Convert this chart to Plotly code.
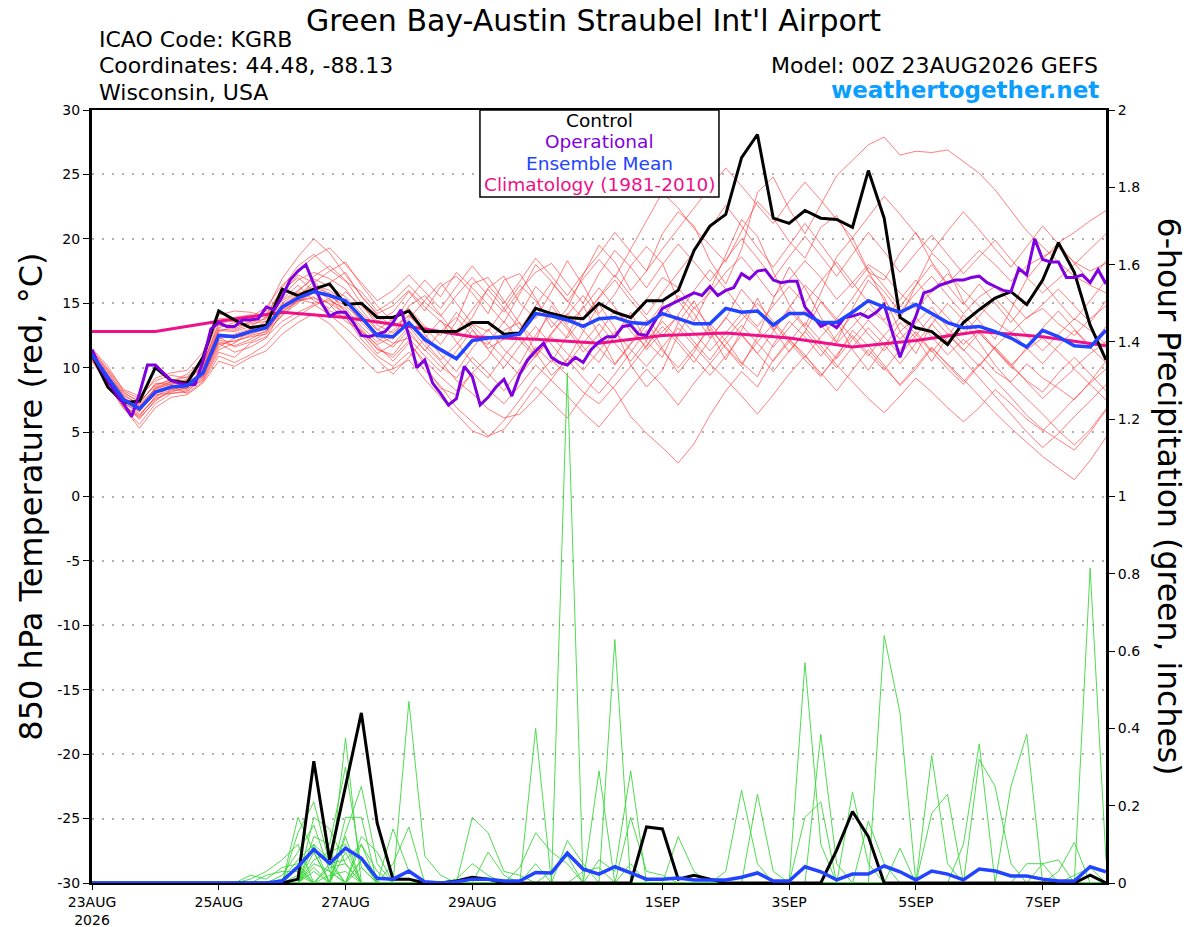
import pandas as pd
import plotly.graph_objects as go

# time axis: GEFS 6-hourly out to 384h, operational 3-hourly, climatology daily
times = pd.date_range("2026-08-23 00:00", periods=65, freq="6h")
times_op = pd.date_range("2026-08-23 00:00", periods=129, freq="3h")
days_clim = pd.date_range("2026-08-23 00:00", periods=17, freq="D")

tick_dates = ["2026-08-23", "2026-08-25", "2026-08-27", "2026-08-29",
              "2026-09-01", "2026-09-03", "2026-09-05", "2026-09-07"]
tick_labels = ["23AUG<br>2026", "25AUG", "27AUG", "29AUG", "1SEP", "3SEP", "5SEP", "7SEP"]
temp_ticks = [30, 25, 20, 15, 10, 5, 0, -5, -10, -15, -20, -25, -30]
temp_labels = ["30", "25", "20", "15", "10", "5", "0", "-5", "-10", "-15", "-20", "-25", "-30"]
precip_ticks = [0, 0.2, 0.4, 0.6, 0.8, 1, 1.2, 1.4, 1.6, 1.8, 2]
precip_labels = ["0", "0.2", "0.4", "0.6", "0.8", "1", "1.2", "1.4", "1.6", "1.8", "2"]

# 850 hPa temperature (C)
control_t = [11.0, 8.5, 7.3, 7.4, 10.0, 9.0, 8.8, 10.8, 14.4, 13.7,
             13.1, 13.3, 16.1, 15.6, 16.1, 16.5, 14.9, 15.0, 13.9, 13.9,
             14.4, 12.8, 12.8, 12.8, 13.5, 13.5, 12.6, 12.7, 14.6, 14.2,
             13.9, 13.8, 15.0, 14.3, 13.9, 15.2, 15.2, 16.0, 19.1, 21.0,
             21.9, 26.3, 28.1, 21.6, 21.2, 22.2, 21.6, 21.5, 20.9, 25.3,
             21.6, 13.9, 13.1, 12.8, 11.8, 13.5, 14.5, 15.4, 15.9, 14.9,
             16.8, 19.7, 17.4, 13.3, 10.6]
mean_t = [11.0, 9.3, 7.5, 6.8, 8.1, 8.5, 8.6, 9.6, 12.5, 12.4,
          12.8, 13.1, 14.7, 15.4, 15.9, 15.6, 15.2, 13.9, 12.5, 12.4,
          13.5, 12.2, 11.4, 10.7, 12.1, 12.3, 12.4, 12.6, 14.2, 14.0,
          13.7, 13.2, 13.8, 13.9, 13.5, 13.4, 14.2, 13.8, 13.4, 13.4,
          14.6, 14.3, 14.4, 13.3, 14.2, 14.2, 13.5, 13.5, 14.3, 15.2,
          14.7, 14.3, 14.9, 14.2, 13.5, 13.1, 13.2, 12.8, 12.3, 11.6,
          12.9, 12.4, 11.7, 11.6, 12.9]
oper_t = [11.4, 10.0, 9.0, 8.0, 7.2, 6.2, 8.0, 10.2, 10.2, 9.6,
          9.0, 8.8, 8.7, 8.7, 10.5, 13.0, 13.5, 13.2, 13.2, 13.7,
          13.7, 13.8, 14.7, 14.5, 15.5, 16.8, 17.5, 18.0, 16.5, 15.0,
          14.0, 14.3, 14.3, 13.5, 12.5, 12.4, 12.6, 12.8, 13.5, 14.5,
          12.5, 10.0, 10.6, 8.8, 8.0, 7.1, 7.6, 10.1, 9.3, 7.1,
          7.7, 8.5, 9.1, 7.8, 9.5, 10.6, 11.3, 11.9, 10.8, 10.4,
          10.2, 10.8, 10.4, 11.4, 12.0, 12.4, 12.4, 13.2, 13.3, 12.6,
          12.5, 13.5, 14.6, 14.9, 15.2, 15.5, 15.8, 15.6, 16.3, 15.6,
          16.0, 16.2, 17.3, 16.9, 17.5, 17.6, 16.8, 16.6, 16.7, 16.7,
          14.7, 14.0, 13.2, 13.5, 13.1, 13.9, 14.0, 14.2, 13.9, 14.3,
          14.9, 12.8, 10.8, 12.5, 14.0, 15.8, 16.0, 16.4, 16.6, 16.8,
          16.8, 17.0, 17.1, 16.6, 16.3, 16.0, 15.9, 17.7, 17.2, 20.0,
          18.4, 18.2, 18.2, 17.0, 17.0, 17.2, 16.6, 17.6, 16.5]
clim_t = [12.8, 12.8, 13.6, 14.3, 13.9, 13.2, 12.4, 12.2, 11.9, 12.5,
          12.7, 12.3, 11.6, 12.1, 12.8, 12.4, 11.7]

# ensemble members, temperature
t01 = [10.8, 8.9, 7.0, 6.2, 7.8, 8.3, 8.4, 9.9, 12.9, 12.8, 13.2, 13.9, 15.6, 16.8, 17.4, 16.9, 16.1, 14.5, 13.0, 12.2, 14.8, 15.6, 14.1, 12.5, 13.9, 16.2, 17.1, 15.0, 13.8, 15.9, 18.3, 16.4, 14.2, 15.7, 17.9, 19.4, 18.1, 15.2, 13.6, 16.0, 18.8, 21.5, 20.2, 17.4, 14.9, 13.2, 15.8, 18.6, 20.1, 17.5, 15.2, 13.8, 16.4, 18.9, 17.7, 15.1, 13.6, 12.2, 14.5, 16.9, 18.4, 19.7, 20.5, 21.4, 22.2]
t02 = [11.2, 9.6, 8.0, 7.4, 8.6, 9.1, 8.9, 9.3, 11.8, 12.1, 12.4, 12.6, 14.1, 15.0, 16.2, 15.8, 14.3, 12.7, 11.5, 10.8, 12.1, 10.2, 8.4, 7.9, 9.6, 10.8, 12.9, 13.5, 11.2, 9.4, 10.6, 12.8, 14.9, 13.1, 10.2, 8.5, 9.8, 12.6, 14.7, 13.2, 11.5, 10.1, 12.4, 15.3, 17.8, 16.2, 13.9, 12.0, 14.6, 16.8, 15.5, 12.8, 11.1, 13.4, 15.0, 13.7, 11.9, 10.2, 8.8, 7.6, 6.4, 5.1, 4.0, 5.2, 6.8]
t03 = [10.6, 8.7, 6.8, 5.6, 7.2, 8.0, 8.2, 9.1, 11.4, 11.9, 12.9, 13.6, 15.3, 16.4, 15.2, 14.6, 15.9, 14.8, 13.6, 14.3, 15.9, 14.4, 16.3, 17.1, 15.8, 14.2, 16.8, 17.3, 15.4, 13.1, 14.6, 17.2, 19.5, 18.2, 16.0, 17.5, 20.4, 22.1, 21.0, 18.3, 16.5, 19.2, 23.6, 24.8, 22.3, 20.4, 22.7, 24.9, 26.1, 27.3, 27.9, 26.5, 26.8, 26.7, 26.9, 26.0, 25.1, 23.8, 22.2, 20.6, 19.4, 18.2, 17.1, 16.4, 15.8]
t04 = [11.4, 9.9, 8.3, 7.8, 9.0, 9.4, 9.2, 10.3, 13.1, 13.5, 13.8, 14.4, 16.9, 18.6, 20.0, 18.9, 17.2, 15.6, 14.1, 13.2, 14.0, 13.1, 11.8, 13.6, 16.5, 17.0, 15.2, 13.4, 12.1, 14.8, 13.2, 11.6, 10.4, 12.5, 14.3, 12.0, 10.8, 13.5, 15.2, 12.8, 10.6, 12.9, 15.4, 13.0, 11.2, 12.8, 15.1, 13.6, 11.4, 9.8, 11.6, 13.5, 12.3, 10.5, 12.4, 14.1, 12.7, 11.4, 10.1, 9.0, 8.1, 9.6, 10.8, 9.5, 8.2]
t05 = [10.9, 9.1, 7.6, 7.0, 8.2, 8.6, 8.0, 8.9, 10.9, 10.4, 11.0, 11.8, 13.2, 14.0, 14.8, 15.4, 14.0, 12.2, 10.9, 10.1, 11.2, 9.8, 8.6, 6.9, 5.8, 4.7, 5.2, 6.8, 8.5, 7.3, 6.1, 7.8, 9.5, 8.3, 6.2, 4.9, 3.8, 2.6, 4.1, 6.3, 8.2, 9.7, 8.5, 10.6, 12.2, 11.0, 9.4, 10.8, 12.9, 11.7, 10.2, 8.6, 9.9, 11.5, 10.3, 9.1, 7.8, 6.5, 5.3, 4.2, 3.1, 2.2, 1.3, 2.8, 4.6]
t06 = [11.1, 9.4, 7.9, 7.1, 8.4, 8.9, 9.5, 10.6, 13.8, 13.9, 14.1, 13.9, 15.8, 17.2, 16.6, 17.5, 18.2, 16.4, 14.8, 13.5, 15.3, 16.8, 15.5, 17.4, 16.2, 14.9, 13.5, 15.8, 18.0, 16.7, 15.1, 16.9, 18.4, 17.0, 19.2, 21.5, 23.6, 22.4, 20.8, 19.5, 18.2, 20.6, 22.9, 21.6, 19.8, 18.5, 20.9, 21.8, 19.6, 17.4, 16.8, 18.9, 20.5, 18.2, 16.5, 17.8, 19.1, 18.0, 16.7, 17.9, 18.6, 19.3, 18.2, 17.5, 18.1]
t07 = [10.7, 8.8, 7.3, 6.4, 7.6, 8.1, 8.5, 9.4, 11.9, 11.2, 11.6, 12.3, 14.4, 15.1, 15.8, 14.9, 13.6, 12.9, 11.4, 11.0, 12.6, 11.4, 10.1, 9.2, 10.8, 9.6, 8.2, 9.9, 11.6, 10.4, 12.5, 14.8, 12.6, 10.3, 11.9, 13.7, 11.5, 9.6, 11.2, 13.4, 12.1, 10.4, 9.3, 11.8, 13.6, 12.4, 10.9, 12.5, 14.1, 12.6, 11.3, 12.8, 13.9, 12.4, 11.0, 12.2, 11.1, 9.7, 8.9, 10.3, 9.2, 8.4, 7.5, 8.9, 10.5]
t08 = [11.3, 9.7, 7.8, 7.2, 8.8, 8.7, 9.1, 10.1, 12.8, 13.2, 13.5, 13.8, 15.2, 16.0, 16.9, 16.3, 15.5, 14.2, 12.9, 13.8, 14.6, 13.2, 12.5, 14.3, 13.0, 11.5, 12.2, 14.1, 16.3, 15.1, 13.4, 14.6, 16.2, 14.7, 12.8, 11.6, 13.9, 15.6, 14.2, 12.3, 13.8, 16.1, 14.6, 12.9, 14.7, 16.4, 15.2, 13.8, 15.4, 17.2, 15.9, 14.3, 15.8, 17.1, 15.6, 14.2, 15.5, 16.3, 15.1, 13.8, 14.9, 16.1, 14.8, 13.5, 15.2]
t09 = [10.5, 8.6, 6.9, 5.3, 6.9, 7.7, 7.9, 8.8, 10.5, 10.1, 10.8, 11.3, 12.6, 13.5, 14.2, 13.4, 12.1, 10.8, 9.6, 9.9, 10.6, 9.1, 7.7, 6.4, 5.1, 4.6, 5.9, 7.5, 9.2, 10.6, 9.4, 8.1, 7.2, 8.6, 10.1, 11.7, 13.2, 11.9, 10.4, 12.2, 13.9, 12.6, 11.1, 12.8, 14.5, 13.1, 11.7, 10.2, 8.9, 7.6, 6.5, 7.8, 9.2, 8.1, 6.9, 5.8, 6.9, 8.3, 7.2, 6.0, 5.1, 6.3, 7.6, 8.8, 9.9]
t10 = [11.0, 9.2, 7.4, 6.6, 8.0, 8.4, 8.7, 9.7, 12.2, 12.6, 13.0, 13.3, 14.9, 15.6, 16.4, 16.0, 15.1, 13.5, 12.3, 11.6, 12.9, 11.3, 12.8, 13.9, 12.4, 11.8, 13.6, 12.1, 10.8, 12.6, 14.1, 15.6, 14.0, 12.4, 13.7, 15.3, 17.0, 16.2, 14.6, 15.8, 17.4, 18.6, 17.1, 15.5, 16.8, 18.3, 17.0, 15.3, 16.6, 18.0, 17.2, 15.8, 14.6, 15.9, 17.3, 16.0, 14.8, 13.6, 12.7, 13.9, 14.6, 13.4, 12.5, 13.8, 14.8]
t11 = [10.9, 9.0, 7.1, 6.0, 7.5, 8.2, 8.3, 9.5, 12.0, 11.7, 12.2, 12.9, 14.0, 15.3, 15.0, 15.2, 14.6, 13.2, 12.0, 12.9, 14.1, 12.6, 11.0, 9.7, 11.5, 13.0, 11.4, 10.3, 12.5, 14.3, 13.0, 11.2, 12.6, 14.5, 13.3, 11.4, 12.8, 14.0, 12.7, 11.3, 12.7, 14.2, 13.0, 11.6, 13.1, 14.5, 13.3, 11.9, 13.2, 14.6, 13.6, 12.2, 13.5, 14.7, 13.1, 11.8, 12.9, 11.5, 10.2, 11.4, 12.3, 11.2, 10.0, 11.1, 12.0]
t12 = [11.5, 10.1, 8.2, 7.6, 9.2, 9.6, 9.8, 11.2, 14.1, 14.4, 14.3, 14.0, 16.2, 17.9, 18.8, 17.6, 16.7, 15.9, 14.4, 15.2, 16.4, 15.1, 14.0, 15.6, 17.0, 15.6, 14.3, 16.0, 17.4, 18.1, 16.5, 15.0, 17.3, 19.1, 17.8, 16.2, 18.0, 19.6, 18.2, 16.7, 18.4, 20.0, 18.5, 16.9, 18.6, 20.2, 18.7, 17.1, 18.8, 20.5, 19.0, 17.4, 18.9, 20.3, 18.8, 17.3, 18.6, 19.9, 18.4, 17.0, 15.8, 16.9, 18.0, 19.2, 20.4]
t13 = [10.8, 9.0, 7.0, 6.3, 7.7, 8.6, 8.8, 9.8, 12.4, 11.6, 12.0, 12.7, 14.6, 15.8, 16.1, 15.3, 14.4, 13.0, 11.7, 10.5, 11.9, 10.5, 9.3, 8.2, 9.6, 8.3, 7.2, 8.6, 10.2, 9.0, 7.8, 6.5, 5.4, 6.9, 8.4, 9.9, 8.6, 7.1, 8.8, 10.3, 9.1, 7.8, 6.4, 7.9, 9.5, 10.9, 9.6, 8.2, 9.8, 11.4, 10.0, 8.7, 10.1, 11.6, 10.2, 8.9, 10.3, 9.0, 7.7, 6.3, 5.2, 4.4, 3.6, 5.0, 6.7]
t14 = [11.2, 9.5, 7.7, 6.9, 8.3, 8.8, 9.0, 10.0, 13.0, 12.9, 13.4, 13.6, 15.0, 15.9, 17.1, 17.9, 16.8, 15.0, 13.3, 12.7, 13.8, 15.2, 16.6, 15.0, 13.4, 12.8, 14.6, 16.4, 15.2, 13.6, 12.3, 13.9, 15.4, 16.8, 15.2, 13.8, 12.4, 14.1, 16.0, 17.6, 16.1, 14.5, 13.2, 14.8, 16.3, 15.0, 16.7, 18.2, 16.6, 15.1, 13.7, 15.3, 16.8, 15.2, 13.9, 12.6, 14.0, 15.4, 14.0, 12.5, 11.3, 12.6, 13.8, 12.9, 11.8]
t15 = [10.6, 8.8, 7.1, 6.1, 7.4, 8.3, 8.6, 9.2, 11.6, 12.3, 12.6, 13.0, 14.3, 15.2, 15.5, 14.4, 13.9, 12.6, 11.1, 11.8, 13.2, 11.7, 10.5, 9.0, 8.0, 6.8, 6.1, 6.4, 7.6, 9.1, 10.7, 9.2, 8.0, 9.5, 11.2, 12.9, 11.3, 10.0, 11.5, 13.0, 11.6, 10.3, 12.0, 13.4, 12.0, 10.6, 9.3, 11.0, 12.5, 11.1, 9.8, 11.4, 12.8, 11.3, 9.9, 8.7, 10.2, 11.6, 10.3, 8.9, 7.6, 8.8, 9.9, 8.7, 7.5]
t16 = [11.1, 9.3, 7.5, 6.7, 8.1, 8.5, 8.4, 9.0, 11.2, 10.8, 11.9, 12.4, 13.6, 14.3, 14.9, 14.1, 13.1, 11.9, 10.6, 9.5, 10.8, 12.3, 13.7, 12.0, 10.4, 9.2, 10.9, 12.4, 11.0, 12.7, 14.2, 12.9, 11.5, 10.2, 11.8, 13.3, 14.9, 13.5, 12.0, 10.6, 12.3, 13.7, 15.0, 13.6, 12.2, 10.8, 12.4, 13.8, 12.3, 10.9, 12.5, 13.9, 12.6, 11.2, 12.7, 11.4, 10.1, 11.6, 12.8, 11.5, 10.3, 11.7, 12.9, 11.6, 10.4]
t17 = [10.7, 8.9, 7.2, 6.6, 8.5, 8.9, 9.3, 10.4, 13.3, 13.0, 13.6, 14.2, 16.0, 17.0, 15.9, 16.6, 17.4, 15.5, 14.2, 14.8, 16.0, 14.7, 13.6, 12.8, 14.5, 16.1, 14.6, 13.0, 14.8, 16.6, 15.2, 13.8, 15.5, 17.2, 15.6, 14.1, 15.8, 17.4, 19.0, 20.8, 22.6, 21.0, 19.3, 17.8, 19.5, 21.2, 19.6, 17.9, 16.2, 17.8, 16.3, 14.7, 16.4, 18.0, 16.4, 14.9, 16.5, 15.0, 13.5, 15.1, 16.6, 15.1, 13.7, 15.2, 16.8]
t18 = [11.3, 9.8, 8.1, 7.3, 8.7, 9.0, 8.8, 9.6, 12.6, 12.5, 12.9, 13.2, 14.8, 15.5, 16.7, 15.5, 14.8, 13.7, 12.6, 11.9, 12.3, 10.9, 9.7, 11.3, 12.9, 11.4, 10.0, 11.7, 13.2, 11.8, 10.3, 11.9, 13.4, 11.9, 10.5, 12.1, 13.6, 12.2, 10.8, 9.4, 10.9, 12.5, 11.1, 9.7, 11.3, 12.8, 11.4, 10.0, 11.6, 13.1, 11.8, 10.3, 11.9, 13.4, 12.0, 10.6, 9.2, 7.8, 6.4, 5.0, 3.8, 4.9, 6.2, 7.4, 8.7]
t19 = [10.9, 9.1, 7.3, 6.8, 7.9, 8.0, 8.1, 9.3, 12.1, 12.0, 12.5, 12.8, 14.5, 15.2, 15.4, 15.0, 14.2, 12.8, 11.8, 12.4, 13.6, 12.0, 10.6, 11.8, 13.3, 12.0, 10.7, 9.4, 10.9, 12.4, 11.1, 9.8, 11.3, 12.8, 11.4, 10.1, 11.6, 13.1, 11.7, 10.3, 11.8, 13.3, 11.9, 10.5, 12.0, 13.5, 12.1, 10.7, 12.2, 13.7, 12.4, 11.0, 12.5, 14.0, 12.6, 11.3, 12.7, 11.4, 10.0, 11.6, 13.1, 14.4, 13.0, 11.7, 13.2]
t20 = [11.0, 9.4, 7.6, 7.0, 8.4, 8.7, 9.0, 10.2, 13.5, 13.6, 13.9, 14.7, 16.4, 17.5, 18.6, 19.3, 18.0, 16.6, 15.2, 16.0, 17.2, 15.9, 14.6, 16.3, 17.9, 16.4, 15.0, 16.7, 18.5, 17.1, 15.6, 17.3, 18.8, 20.5, 19.0, 17.5, 19.2, 20.8, 22.4, 24.0, 25.5, 24.1, 22.6, 21.2, 22.9, 24.4, 23.0, 21.5, 20.1, 21.7, 23.3, 21.9, 20.4, 19.0, 20.6, 22.1, 20.7, 19.2, 17.8, 19.4, 21.0, 19.6, 18.1, 16.7, 18.3]

# 6-hour precipitation (inches)
control_p = [0, 0, 0, 0, 0, 0, 0, 0, 0, 0,
             0, 0, 0, 0.01, 0.315, 0.06, 0.25, 0.44, 0.155, 0.01,
             0.01, 0, 0, 0.005, 0.015, 0.01, 0, 0, 0, 0,
             0, 0, 0, 0, 0, 0.145, 0.14, 0.01, 0.02, 0.01,
             0, 0, 0, 0, 0, 0, 0, 0.085, 0.185, 0.12,
             0, 0, 0, 0, 0, 0, 0, 0, 0, 0,
             0, 0, 0, 0.02, 0]
mean_p = [0, 0, 0, 0, 0, 0, 0, 0, 0, 0,
          0, 0, 0.005, 0.042, 0.087, 0.051, 0.09, 0.064, 0.012, 0.01,
          0.031, 0.003, 0, 0.003, 0.01, 0.01, 0.005, 0.005, 0.027, 0.026,
          0.077, 0.036, 0.023, 0.042, 0.026, 0.01, 0.01, 0.013, 0.008, 0.008,
          0.008, 0.015, 0.026, 0.005, 0.005, 0.042, 0.029, 0.008, 0.023, 0.023,
          0.044, 0.029, 0.008, 0.031, 0.023, 0.008, 0.036, 0.031, 0.018, 0.018,
          0.01, 0.005, 0.005, 0.042, 0.029]

p01 = [0, 0, 0, 0, 0, 0, 0, 0, 0, 0, 0, 0, 0, 0.17, 0.08, 0, 0, 0.10, 0, 0, 0, 0, 0, 0, 0, 0, 0, 0, 0, 0.03, 0.07, 0, 0, 0, 0, 0, 0, 0, 0, 0, 0, 0, 0, 0, 0, 0, 0, 0, 0, 0, 0, 0, 0, 0.33, 0.05, 0, 0, 0, 0, 0, 0, 0, 0, 0, 0]
p02 = [0, 0, 0, 0, 0, 0, 0, 0, 0, 0, 0, 0, 0, 0.13, 0.21, 0.05, 0, 0, 0, 0, 0, 0, 0, 0, 0, 0, 0, 0, 0, 0, 1.32, 0, 0, 0, 0, 0, 0, 0, 0, 0, 0, 0, 0, 0, 0, 0, 0, 0, 0, 0, 0, 0, 0, 0, 0, 0, 0, 0, 0, 0, 0, 0.03, 0.105, 0, 0]
p03 = [0, 0, 0, 0, 0, 0, 0, 0, 0, 0, 0.01, 0.03, 0.06, 0.10, 0, 0, 0.375, 0, 0, 0, 0, 0, 0, 0, 0, 0, 0, 0, 0, 0, 0, 0, 0, 0, 0, 0, 0, 0, 0, 0, 0, 0, 0, 0, 0, 0, 0.385, 0.05, 0, 0, 0, 0, 0, 0, 0, 0, 0, 0, 0, 0, 0, 0, 0, 0, 0]
p04 = [0, 0, 0, 0, 0, 0, 0, 0, 0, 0, 0, 0, 0, 0, 0.17, 0.14, 0.05, 0, 0, 0, 0, 0, 0, 0, 0, 0, 0, 0, 0, 0, 0, 0, 0, 0, 0, 0, 0, 0, 0, 0, 0.03, 0.24, 0.05, 0, 0, 0, 0, 0, 0, 0, 0, 0, 0, 0, 0, 0, 0, 0, 0, 0, 0, 0, 0, 0, 0]
p05 = [0, 0, 0, 0, 0, 0, 0, 0, 0, 0, 0, 0, 0.02, 0.08, 0.15, 0.03, 0, 0, 0, 0, 0, 0, 0, 0, 0, 0, 0, 0, 0, 0, 0.11, 0.05, 0, 0, 0, 0, 0, 0, 0, 0, 0, 0, 0, 0, 0, 0, 0, 0, 0, 0.16, 0.05, 0, 0, 0, 0, 0, 0, 0, 0, 0, 0, 0, 0, 0, 0]
p06 = [0, 0, 0, 0, 0, 0, 0, 0, 0, 0, 0, 0, 0, 0, 0.12, 0.10, 0.30, 0.04, 0, 0, 0, 0, 0, 0, 0, 0, 0, 0, 0, 0, 0, 0, 0.29, 0, 0.05, 0, 0, 0, 0, 0, 0, 0, 0, 0, 0, 0, 0, 0, 0, 0, 0, 0, 0, 0, 0, 0, 0.32, 0.25, 0.05, 0, 0, 0, 0, 0, 0]
p07 = [0, 0, 0, 0, 0, 0, 0, 0, 0, 0, 0.02, 0.01, 0.04, 0.05, 0, 0, 0.13, 0.25, 0.05, 0, 0, 0, 0, 0, 0, 0, 0, 0, 0, 0, 0, 0, 0, 0, 0, 0, 0, 0, 0, 0, 0, 0, 0, 0, 0, 0, 0, 0, 0, 0, 0, 0, 0, 0, 0, 0.10, 0.36, 0, 0, 0, 0, 0, 0, 0, 0]
p08 = [0, 0, 0, 0, 0, 0, 0, 0, 0, 0, 0, 0, 0, 0, 0.10, 0.06, 0, 0, 0, 0.14, 0.03, 0, 0, 0, 0, 0, 0, 0, 0, 0, 0, 0, 0, 0, 0, 0, 0, 0, 0, 0, 0, 0, 0, 0, 0, 0, 0, 0, 0, 0, 0.64, 0.44, 0, 0, 0, 0, 0, 0, 0, 0, 0, 0, 0, 0, 0]
p09 = [0, 0, 0, 0, 0, 0, 0, 0, 0, 0, 0, 0, 0, 0.04, 0, 0, 0.17, 0.17, 0, 0, 0, 0, 0, 0, 0, 0, 0, 0, 0, 0, 0, 0, 0, 0, 0, 0, 0, 0, 0, 0, 0, 0, 0.23, 0.03, 0, 0, 0, 0, 0, 0, 0, 0, 0, 0, 0, 0, 0, 0, 0, 0, 0, 0, 0.02, 0.04, 0]
p10 = [0, 0, 0, 0, 0, 0, 0, 0, 0, 0, 0, 0, 0, 0, 0.06, 0.08, 0.10, 0, 0, 0, 0.47, 0.07, 0.02, 0, 0, 0, 0, 0, 0, 0, 0, 0, 0, 0, 0, 0, 0, 0, 0, 0, 0, 0, 0, 0, 0, 0, 0, 0, 0, 0, 0, 0, 0, 0, 0, 0, 0, 0, 0, 0, 0, 0, 0, 0, 0]
p11 = [0, 0, 0, 0, 0, 0, 0, 0, 0, 0, 0, 0, 0, 0, 0.05, 0.03, 0, 0.12, 0.08, 0, 0, 0, 0, 0, 0.17, 0.13, 0.03, 0.02, 0, 0, 0, 0, 0, 0, 0, 0, 0, 0, 0, 0, 0, 0, 0, 0, 0, 0, 0, 0, 0, 0, 0, 0, 0, 0, 0, 0, 0, 0, 0, 0, 0, 0, 0, 0.815, 0.06]
p12 = [0, 0, 0, 0, 0, 0, 0, 0, 0, 0, 0, 0.02, 0.03, 0.03, 0, 0, 0.08, 0, 0, 0, 0, 0, 0, 0, 0, 0, 0, 0, 0.40, 0, 0, 0, 0, 0, 0, 0, 0, 0, 0, 0, 0, 0, 0, 0, 0, 0, 0, 0, 0, 0, 0, 0, 0, 0.18, 0.23, 0, 0, 0, 0, 0, 0, 0, 0, 0, 0]
p13 = [0, 0, 0, 0, 0, 0, 0, 0, 0, 0, 0, 0, 0, 0, 0.04, 0, 0, 0.06, 0, 0.05, 0.145, 0, 0, 0, 0, 0, 0, 0, 0, 0, 0, 0, 0, 0, 0, 0, 0, 0, 0, 0, 0, 0, 0, 0, 0, 0.57, 0.10, 0, 0, 0, 0, 0, 0, 0, 0, 0, 0, 0, 0, 0, 0, 0, 0, 0, 0]
p14 = [0, 0, 0, 0, 0, 0, 0, 0, 0, 0, 0, 0, 0, 0, 0, 0.05, 0.06, 0.10, 0.03, 0, 0, 0, 0, 0, 0, 0, 0, 0, 0, 0, 0, 0, 0, 0.63, 0, 0, 0, 0, 0, 0, 0, 0, 0, 0, 0, 0, 0, 0, 0, 0, 0, 0, 0, 0, 0, 0, 0, 0, 0.25, 0.385, 0, 0, 0, 0, 0]
p15 = [0, 0, 0, 0, 0, 0, 0, 0, 0, 0, 0, 0, 0.01, 0.06, 0.10, 0, 0, 0, 0, 0, 0, 0, 0, 0, 0, 0, 0, 0, 0, 0, 0, 0, 0.06, 0.03, 0.29, 0, 0, 0, 0, 0, 0, 0, 0, 0, 0, 0, 0, 0, 0, 0, 0, 0, 0, 0, 0, 0, 0, 0, 0, 0, 0, 0, 0, 0, 0]
p16 = [0, 0, 0, 0, 0, 0, 0, 0, 0, 0, 0, 0, 0, 0, 0, 0.04, 0.05, 0, 0, 0, 0, 0, 0, 0.01, 0.05, 0.02, 0, 0, 0, 0, 0, 0, 0, 0, 0, 0, 0, 0, 0, 0, 0, 0, 0, 0, 0, 0, 0, 0, 0, 0, 0, 0.09, 0, 0, 0, 0, 0, 0, 0, 0.05, 0.05, 0, 0, 0, 0]
p17 = [0, 0, 0, 0, 0, 0, 0, 0, 0, 0, 0, 0, 0, 0, 0.08, 0, 0, 0.04, 0, 0, 0, 0, 0, 0, 0, 0, 0, 0.04, 0.13, 0.08, 0.05, 0, 0, 0, 0, 0, 0, 0, 0, 0, 0, 0, 0, 0, 0, 0.17, 0.21, 0, 0, 0, 0, 0, 0, 0, 0, 0, 0, 0, 0, 0, 0, 0, 0, 0, 0]
p18 = [0, 0, 0, 0, 0, 0, 0, 0, 0, 0, 0, 0, 0, 0.02, 0, 0, 0.12, 0, 0, 0, 0, 0, 0, 0, 0, 0, 0, 0, 0, 0, 0, 0, 0, 0, 0.17, 0.03, 0.02, 0, 0, 0, 0, 0, 0, 0, 0, 0, 0, 0, 0, 0, 0, 0, 0, 0, 0, 0, 0, 0, 0, 0, 0.05, 0.06, 0, 0, 0]
p19 = [0, 0, 0, 0, 0, 0, 0, 0, 0, 0, 0, 0, 0, 0, 0.03, 0, 0, 0.06, 0, 0, 0, 0, 0, 0, 0, 0.08, 0.02, 0, 0, 0, 0, 0, 0, 0, 0, 0, 0, 0.12, 0.03, 0, 0, 0, 0, 0, 0, 0, 0, 0, 0, 0, 0, 0, 0, 0, 0, 0, 0, 0, 0, 0, 0, 0, 0, 0, 0, 0.42]
p20 = [0, 0, 0, 0, 0, 0, 0, 0, 0, 0, 0, 0, 0, 0, 0, 0.02, 0.03, 0, 0, 0, 0, 0, 0, 0, 0, 0, 0, 0, 0.05, 0, 0, 0.03, 0.04, 0, 0, 0, 0, 0, 0, 0, 0, 0, 0, 0, 0, 0, 0, 0, 0.235, 0.05, 0, 0, 0, 0, 0, 0, 0, 0, 0, 0, 0, 0, 0, 0, 0]

temp_members = [t01, t02, t03, t04, t05, t06, t07, t08, t09, t10,
                t11, t12, t13, t14, t15, t16, t17, t18, t19, t20]
precip_members = [p01, p02, p03, p04, p05, p06, p07, p08, p09, p10,
                  p11, p12, p13, p14, p15, p16, p17, p18, p19, p20]

FONT = "DejaVu Sans, Liberation Sans, sans-serif"

fig = go.Figure()

for t in temp_members:
    fig.add_trace(go.Scatter(x=times, y=t, mode="lines", yaxis="y",
                             line=dict(color="rgba(255,60,60,0.65)", width=1),
                             showlegend=False, hoverinfo="skip"))

fig.add_trace(go.Scatter(x=days_clim, y=clim_t, mode="lines", yaxis="y",
                         line=dict(color="#EE1188", width=3), showlegend=False))
fig.add_trace(go.Scatter(x=times, y=control_t, mode="lines", yaxis="y",
                         line=dict(color="black", width=3), showlegend=False))
fig.add_trace(go.Scatter(x=times_op, y=oper_t, mode="lines", yaxis="y",
                         line=dict(color="#7F00DF", width=3), showlegend=False))
fig.add_trace(go.Scatter(x=times, y=mean_t, mode="lines", yaxis="y",
                         line=dict(color="#2244FF", width=3.5), showlegend=False))

for p in precip_members:
    fig.add_trace(go.Scatter(x=times, y=p, mode="lines", yaxis="y2",
                             line=dict(color="rgb(60,215,60)", width=0.9),
                             showlegend=False, hoverinfo="skip"))

fig.add_trace(go.Scatter(x=times, y=control_p, mode="lines", yaxis="y2",
                         line=dict(color="black", width=3), showlegend=False))
fig.add_trace(go.Scatter(x=times, y=mean_p, mode="lines", yaxis="y2",
                         line=dict(color="#2244FF", width=3.5), showlegend=False))

fig.update_xaxes(
    type="date", range=[times[0], times[-1]],
    tickvals=tick_dates, ticktext=tick_labels,
    ticks="outside", ticklen=5, tickcolor="black",
    tickfont=dict(family=FONT, size=14, color="black"),
    showgrid=False, showline=True, linecolor="black", linewidth=2, mirror=True,
    zeroline=False, automargin=False
)

fig.update_layout(
    width=1200, height=927,
    margin=dict(l=92, r=94, t=110, b=44),
    paper_bgcolor="white", plot_bgcolor="white",
    font=dict(family=FONT, color="black"),
    yaxis=dict(
        range=[-30, 30], tickvals=temp_ticks, ticktext=temp_labels,
        ticks="outside", ticklen=6, tickcolor="black",
        tickfont=dict(family=FONT, size=14, color="black"),
        showgrid=True, gridcolor="#b0b0b0", griddash="2px,8px", gridwidth=1.5,
        showline=True, linecolor="black", linewidth=3, zeroline=False, automargin=False
    ),
    yaxis2=dict(
        overlaying="y", side="right", range=[0, 2],
        tickvals=precip_ticks, ticktext=precip_labels,
        ticks="outside", ticklen=6, tickcolor="black",
        tickfont=dict(family=FONT, size=14, color="black"),
        showgrid=False, showline=True, linecolor="black", linewidth=3, zeroline=False,
        automargin=False
    ),
)

# legend box
fig.add_shape(type="rect", xref="paper", yref="paper", x0=0.3826, x1=0.6183, y0=0.8875, y1=1.0,
              line=dict(color="black", width=1.5), fillcolor="white", layer="above")

legend_rows = [("Control", "black", 0.987), ("Operational", "#7F00DF", 0.959),
               ("Ensemble Mean", "#2244FF", 0.931), ("Climatology (1981-2010)", "#EE1188", 0.903)]
for txt, col, yy in legend_rows:
    fig.add_annotation(text=txt, xref="paper", yref="paper", x=0.5, y=yy,
                       xanchor="center", yanchor="middle", showarrow=False,
                       font=dict(family=FONT, size=18.5, color=col))

header = [
    ("Green Bay-Austin Straubel Int'l Airport", 0.495, 1.116, "center", 30, "black"),
    ("ICAO Code: KGRB", 0.005, 1.091, "left", 22, "black"),
    ("Coordinates: 44.48, -88.13", 0.005, 1.057, "left", 22, "black"),
    ("Wisconsin, USA", 0.005, 1.023, "left", 22, "black"),
    ("Model: 00Z 23AUG2026 GEFS", 0.994, 1.057, "right", 22, "black"),
    ("<b>weathertogether.net</b>", 0.995, 1.026, "right", 23, "#0A9EFF"),
]
for txt, xx, yy, anc, sz, col in header:
    fig.add_annotation(text=txt, xref="paper", yref="paper", x=xx, y=yy,
                       xanchor=anc, yanchor="middle", showarrow=False,
                       font=dict(family=FONT, size=sz, color=col))

# axis titles
fig.add_annotation(text="850 hPa Temperature (red, °C)", xref="paper", yref="paper",
                   x=-0.061, y=0.5, textangle=-90, showarrow=False,
                   xanchor="center", yanchor="middle",
                   font=dict(family=FONT, size=32, color="black"))
fig.add_annotation(text="6-hour Precipitation (green, inches)", xref="paper", yref="paper",
                   x=1.063, y=0.5, textangle=90, showarrow=False,
                   xanchor="center", yanchor="middle",
                   font=dict(family=FONT, size=31.5, color="black"))

# drop the default 8px page margin so the figure sits at the window corner
fig.write_html("out.html", config={"displayModeBar": False},
               post_script="document.body.style.margin='0';")
